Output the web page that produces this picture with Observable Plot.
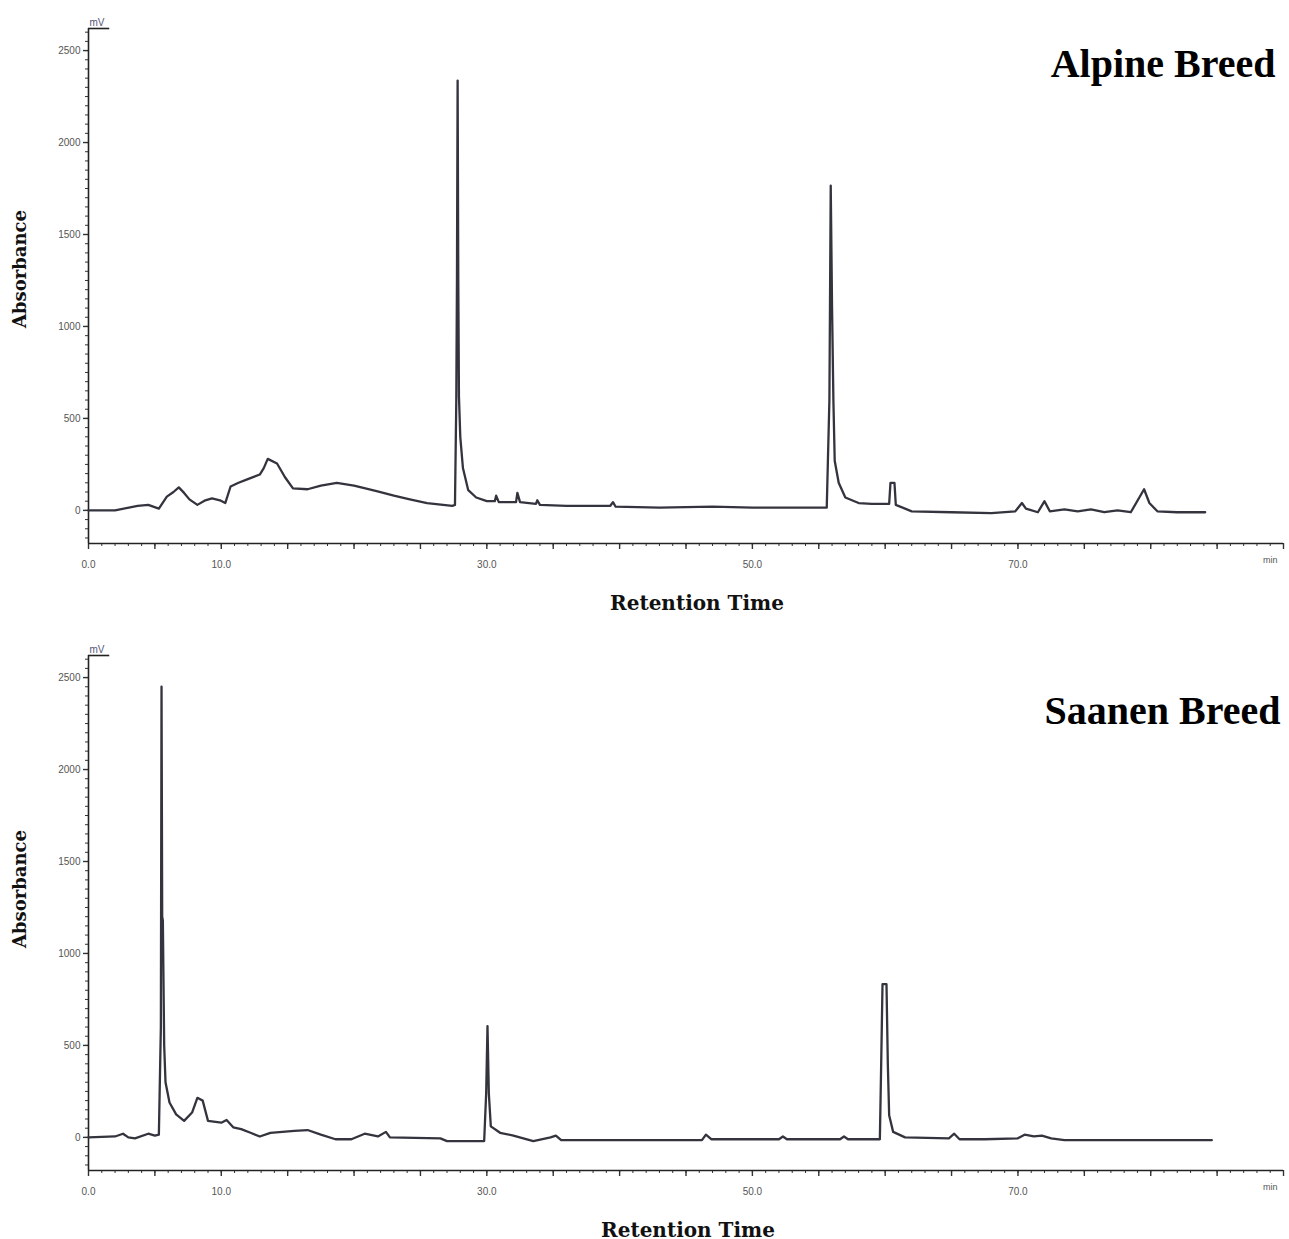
<!DOCTYPE html>
<html>
<head>
<meta charset="utf-8">
<script src="https://cdn.jsdelivr.net/npm/d3@7"></script>
<script src="https://cdn.jsdelivr.net/npm/@observablehq/plot@0.6"></script>
<style>
  html, body { margin: 0; padding: 0; background: #fff; }
  #wrap { width: 1289px; }
  #wrap svg { display: block; }
</style>
</head>
<body>
<div id="wrap"></div>
<script>
// ---------- DATA ----------
const alpineTime = [0,2,3.7,4.5,5.3,5.9,6.4,6.8,7.2,7.6,8.2,8.8,9.3,9.9,10.3,10.7,11.3,12.0,12.9,13.2,13.5,14.2,14.8,15.4,16.5,17.5,18.7,20.0,21.7,23.0,24.2,25.5,27.4,27.6,27.7,27.75,27.8,27.85,27.9,28.0,28.2,28.6,29.2,30.0,30.6,30.7,30.9,32.2,32.3,32.5,33.7,33.8,34.0,36,39.3,39.5,39.7,43,47,50,54,55.6,55.8,55.9,56.0,56.1,56.2,56.5,57.0,58.0,59.0,60.3,60.4,60.7,60.8,62,65,68,69.8,70.3,70.6,71.5,72.0,72.4,73.5,74.5,75.5,76.5,77.5,78.5,79.5,79.9,80.5,82,84.1];
const alpineAbs  = [0,0,25,30,10,75,100,125,95,60,30,55,65,55,40,130,150,170,195,230,280,255,180,120,115,135,150,135,105,80,60,40,25,30,600,1250,2337,1250,620,400,230,110,70,50,50,80,45,45,95,45,35,55,30,25,25,45,20,15,20,15,15,15,600,1765,1100,600,270,150,70,40,35,35,150,150,30,-5,-10,-15,-5,40,10,-10,50,-5,5,-5,5,-10,0,-10,115,40,-5,-10,-10];

const saanenTime = [0,2.0,2.6,3.0,3.5,4.5,5.0,5.3,5.45,5.5,5.55,5.6,5.7,5.8,6.1,6.6,7.2,7.8,8.2,8.6,9.0,10.0,10.4,10.9,11.5,12.2,12.9,13.7,15.5,16.5,17.5,18.6,19.8,20.8,21.8,22.4,22.7,26.5,27.0,29.8,29.95,30.05,30.15,30.3,31.0,32.0,33.5,34.8,35.2,35.6,40,46.2,46.5,46.9,52.0,52.3,52.6,56.6,56.9,57.2,59.6,59.7,59.8,60.1,60.2,60.3,60.6,61.5,64.8,65.2,65.6,67.5,70.0,70.5,71.2,71.8,72.5,73.5,84.6];
const saanenAbs  = [0,5,20,0,-5,20,10,15,600,2451,1200,1180,500,300,190,125,90,135,215,200,90,80,95,55,45,25,5,25,35,40,15,-10,-10,20,5,30,0,-5,-20,-20,240,605,240,60,25,10,-20,0,10,-15,-15,-15,15,-10,-10,5,-10,-10,5,-10,-10,400,833,833,400,120,30,0,-5,20,-10,-10,-5,15,5,10,-5,-15,-15];

const yLabelTicks = [0, 500, 1000, 1500, 2000, 2500];
const xLabelTicks = [0, 10, 30, 50, 70];
const panelTitles = ["Alpine Breed", "Saanen Breed"];
const xTitle = "Retention Time";
const yTitle = "Absorbance";
const yUnit = "mV";
const xUnit = "min";

// ---------- DRAW ----------
const xDomain = [0, 90];
const yDomain = [-180, 2620];
const lineColor = "#34343f";

function panel(times, values, title, opts) {
  const data = times.map((t, i) => ({t, v: values[i]}));
  return Plot.plot({
    width: 1289,
    height: opts.height,
    marginLeft: 88,
    marginRight: 6,
    marginTop: opts.marginTop,
    marginBottom: opts.marginBottom,
    style: {fontFamily: "'Liberation Sans', Arial, sans-serif", fontSize: "10px", color: "#555", background: "#fff", overflow: "visible"},
    x: {domain: xDomain, axis: null},
    y: {domain: yDomain, axis: null},
    marks: [
      // minor ticks
      Plot.axisX(d3.range(0, 91, 1), {tickSize: 3, tickFormat: () => "", label: null, stroke: "#333"}),
      Plot.axisX(d3.range(0, 91, 5), {tickSize: 6, tickFormat: () => "", label: null, stroke: "#333", strokeWidth: 1.4}),
      Plot.axisX(xLabelTicks, {tickSize: 0, tickPadding: 17, tickFormat: d => d.toFixed(1), label: null, fill: "#555"}),
      Plot.axisY(d3.range(-150, 2601, 50), {tickSize: 3, tickFormat: () => "", label: null, stroke: "#333"}),
      Plot.axisY(yLabelTicks, {tickSize: 5, tickPadding: 3, tickFormat: d => String(d), label: null, fill: "#555", stroke: "#333", strokeWidth: 1.4}),
      // axis lines
      Plot.ruleX([xDomain[0]], {y1: yDomain[0], y2: yDomain[1], stroke: "#222", strokeWidth: 1.6}),
      Plot.ruleY([yDomain[0]], {x1: xDomain[0], x2: xDomain[1], stroke: "#222", strokeWidth: 1.6}),
      Plot.ruleY([yDomain[1]], {x1: xDomain[0], x2: 1.6, stroke: "#222", strokeWidth: 1.6}),
      // the chromatogram
      Plot.line(data, {x: "t", y: "v", stroke: lineColor, strokeWidth: 2.3, curve: "linear"}),
      // units
      Plot.text([yUnit], {text: d => d, frameAnchor: "top-left", dx: 1, dy: -10, fontSize: 10, fill: "#557"}),
      Plot.text([xUnit], {text: d => d, frameAnchor: "bottom-right", dx: -6, dy: 19, fontSize: 9, fill: "#555"}),
      // titles
      Plot.text([title], {text: d => d, frameAnchor: "top-right", dx: opts.titleDx, dy: opts.titleDy, fontSize: 40, fontWeight: "bold", fontFamily: "'Liberation Serif', 'Times New Roman', serif", fill: "#000", textAnchor: "end"}),
      Plot.text([xTitle], {text: d => d, frameAnchor: "bottom", dx: opts.xTitleDx, dy: opts.xTitleDy, fontSize: 20, fontWeight: "bold", fontFamily: "'DejaVu Serif', serif", fill: "#111"}),
      Plot.text([yTitle], {text: d => d, frameAnchor: "left", dx: -68, dy: opts.yTitleDy, rotate: -90, textAnchor: "middle", fontSize: 18, fontWeight: "bold", fontFamily: "'DejaVu Serif', serif", fill: "#111"})
    ]
  });
}

const wrap = document.getElementById("wrap");
wrap.appendChild(panel(alpineTime, alpineAbs, panelTitles[0], {
  height: 620, marginTop: 28, marginBottom: 77,
  titleDx: -8, titleDy: 20, xTitleDx: 11, xTitleDy: 66, yTitleDy: -17
}));
wrap.appendChild(panel(saanenTime, saanenAbs, panelTitles[1], {
  height: 619, marginTop: 35, marginBottom: 69,
  titleDx: -3, titleDy: 40, xTitleDx: 2, xTitleDy: 66, yTitleDy: -24
}));
</script>
</body>
</html>
